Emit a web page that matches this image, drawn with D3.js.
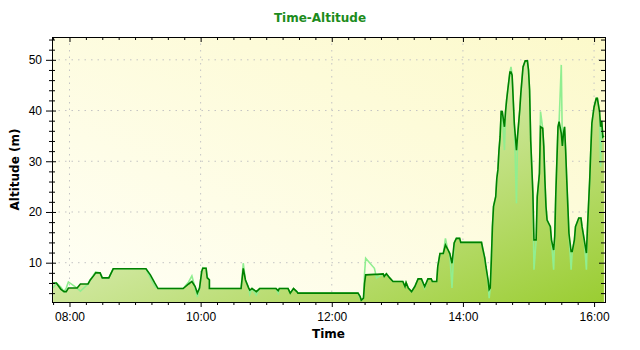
<!DOCTYPE html>
<html>
<head>
<meta charset="utf-8">
<script src="https://cdn.jsdelivr.net/npm/d3@7"></script>
<style>
  body { margin: 0; background: #fff; }
  text { font-family: "Liberation Sans", Arial, sans-serif; }
</style>
</head>
<body>
<script>
// time of each sample, smoothed altitude (dark line) and raw altitude (light line), metres
var times = [
  "07:45", "07:48", "07:52", "07:55", "07:57", "07:59", "08:07", "08:10", "08:17", "08:19",
  "08:22", "08:24", "08:28", "08:30", "08:36", "08:40", "09:10", "09:14", "09:18", "09:21",
  "09:44", "09:49", "09:52", "09:55", "09:57", "09:59", "10:01", "10:02", "10:05", "10:06",
  "10:08", "10:08", "10:37", "10:39", "10:41", "10:44", "10:45", "10:47", "10:51", "10:54",
  "11:09", "11:11", "11:12", "11:20", "11:22", "11:25", "11:28", "11:29", "12:24", "12:26",
  "12:27", "12:29", "12:30", "12:31", "12:39", "12:41", "12:47", "12:48", "12:50", "12:53",
  "12:56", "13:05", "13:07", "13:08", "13:10", "13:13", "13:16", "13:19", "13:22", "13:25",
  "13:28", "13:31", "13:32", "13:36", "13:37", "13:39", "13:42", "13:44", "13:46", "13:48",
  "13:50", "13:52", "13:54", "13:57", "13:58", "14:17", "14:18", "14:20", "14:21", "14:23",
  "14:24", "14:25", "14:26", "14:27", "14:28", "14:30", "14:31", "14:32", "14:33", "14:34",
  "14:35", "14:36", "14:38", "14:39", "14:40", "14:41", "14:43", "14:44", "14:45", "14:47",
  "14:49", "14:50", "14:52", "14:53", "14:55", "14:57", "14:59", "15:00", "15:01", "15:02",
  "15:04", "15:05", "15:07", "15:08", "15:10", "15:11", "15:13", "15:14", "15:15", "15:16",
  "15:17", "15:20", "15:21", "15:23", "15:24", "15:25", "15:27", "15:28", "15:30", "15:31",
  "15:32", "15:33", "15:34", "15:35", "15:36", "15:37", "15:39", "15:40", "15:42", "15:43",
  "15:46", "15:48", "15:49", "15:51", "15:53", "15:54", "15:56", "15:57", "15:58", "16:00",
  "16:02", "16:03", "16:05", "16:06", "16:07", "16:08", "16:09"
];
var altitude = [
  6.0, 6.0, 4.8, 4.3, 4.3, 5.0, 5.0, 5.8, 5.8, 6.6,
  7.4, 8.0, 8.0, 7.0, 7.0, 8.8, 8.8, 7.6, 6.0, 4.9,
  4.9, 5.8, 6.3, 5.3, 4.0, 5.0, 8.3, 8.9, 8.9, 7.0,
  6.6, 4.9, 4.9, 8.9, 6.6, 5.0, 4.6, 4.9, 4.3, 4.9,
  4.9, 4.5, 4.9, 4.9, 4.0, 4.9, 4.3, 4.0, 4.0, 3.3,
  2.6, 3.0, 6.0, 7.6, 7.7, 7.7, 7.8, 7.3, 7.8, 7.0,
  6.3, 6.3, 5.3, 6.1, 5.0, 4.3, 5.3, 6.8, 6.8, 5.3,
  6.8, 6.8, 6.3, 6.3, 9.3, 11.8, 11.8, 13.5, 12.7, 11.8,
  9.9, 13.9, 14.8, 14.8, 14.0, 14.0, 12.9, 10.9, 9.3, 6.6,
  4.7, 5.0, 10.6, 17.1, 21.1, 23.0, 26.6, 28.3, 32.2, 34.8,
  39.8, 39.8, 36.8, 39.8, 42.1, 44.0, 47.6, 47.6, 47.0, 37.5,
  32.2, 35.0, 40.1, 43.4, 48.6, 49.8, 49.8, 48.0, 44.0, 34.2,
  23.7, 14.5, 14.5, 23.0, 27.6, 36.8, 36.5, 32.9, 26.3, 21.1,
  18.4, 17.1, 14.5, 12.5, 15.2, 23.7, 36.8, 37.8, 35.5, 33.0,
  35.5, 36.8, 32.0, 26.3, 21.1, 15.8, 12.2, 12.2, 14.5, 17.1,
  18.8, 18.8, 17.1, 14.5, 11.9, 17.1, 26.3, 32.2, 37.5, 40.7,
  42.4, 42.4, 39.8, 36.8, 38.0, 34.8, 35.0
];
var altitudeRaw = [
  5.0, 6.0, 5.2, 4.3, 5.0, 6.2, 5.0, 4.4, 5.8, 6.6,
  7.6, 8.2, 8.0, 7.0, 7.0, 8.8, 8.8, 7.0, 5.3, 4.9,
  4.9, 6.2, 7.4, 5.0, 3.2, 5.0, 8.3, 9.0, 8.9, 7.2,
  6.6, 4.9, 4.9, 9.9, 6.6, 5.0, 3.8, 4.9, 3.6, 4.9,
  4.9, 4.0, 4.9, 4.9, 4.0, 4.9, 4.3, 4.0, 4.0, 3.0,
  2.6, 3.0, 8.0, 10.9, 8.9, 7.0, 7.8, 7.3, 7.8, 7.0,
  6.3, 6.3, 5.3, 6.1, 5.0, 4.3, 5.3, 6.8, 6.8, 5.0,
  6.8, 6.8, 6.3, 6.3, 9.3, 11.8, 11.8, 14.8, 12.7, 11.8,
  5.0, 13.9, 14.8, 14.8, 14.0, 14.0, 12.9, 10.9, 9.3, 6.0,
  3.0, 5.0, 10.6, 17.1, 21.1, 23.0, 26.6, 28.3, 32.2, 34.8,
  39.8, 39.8, 32.2, 39.8, 42.1, 44.0, 47.6, 48.6, 47.0, 37.5,
  21.7, 35.0, 40.1, 43.4, 48.6, 49.8, 49.8, 48.0, 44.0, 34.2,
  23.7, 8.6, 14.5, 23.0, 27.6, 39.8, 36.5, 32.9, 26.3, 21.1,
  18.4, 17.1, 14.5, 8.6, 15.2, 23.7, 36.8, 37.8, 49.0, 33.0,
  35.5, 36.8, 32.0, 26.3, 21.1, 15.8, 8.6, 12.2, 14.5, 17.1,
  18.8, 18.8, 17.1, 14.5, 8.6, 17.1, 26.3, 32.2, 37.5, 40.7,
  42.4, 42.4, 39.8, 28.9, 38.0, 34.8, 35.0
];
var timeDomain = ["07:44", "16:10"];
var altDomain = [2.25, 54.5];
var yMajor = [10, 20, 30, 40, 50];
var yMinor = [4, 6, 8, 12, 14, 16, 18, 22, 24, 26, 28, 32, 34, 36, 38, 42, 44, 46, 48, 52, 54];

var width = 640, height = 350;
var margin = { top: 37, right: 35, bottom: 48, left: 52 };
var w = width - margin.left - margin.right,
  h = height - margin.top - margin.bottom;

var parse = d3.timeParse("%H:%M");
var data = times.map((t, i) => ({ t: parse(t), alt: altitude[i], raw: altitudeRaw[i] }));

var x = d3.scaleTime().domain(timeDomain.map(parse)).range([0, w]);
var y = d3.scaleLinear().domain(altDomain).range([h, 0]);

var xMajor = x.ticks(d3.timeHour.every(2));
var xMinor = x.ticks(d3.timeMinute.every(15)).filter(d => d.getMinutes() !== 0 || d.getHours() % 2);

var svg = d3.select("body").append("svg")
  .attr("width", width)
  .attr("height", height);

var defs = svg.append("defs");
var bg = defs.append("linearGradient").attr("id", "bg")
  .attr("x1", 0).attr("y1", 1).attr("x2", 1).attr("y2", 0);
bg.append("stop").attr("offset", 0).attr("stop-color", "#fffff6");
bg.append("stop").attr("offset", 1).attr("stop-color", "#fcf9ca");

var fillGrad = defs.append("linearGradient").attr("id", "fillGrad")
  .attr("x1", 0).attr("y1", 0).attr("x2", 1).attr("y2", 1);
fillGrad.append("stop").attr("offset", 0).attr("stop-color", "#ffffff");
fillGrad.append("stop").attr("offset", 1).attr("stop-color", "#9acd32");

defs.append("clipPath").attr("id", "clip")
  .append("rect").attr("width", w).attr("height", h);

// title
svg.append("text")
  .attr("x", width / 2).attr("y", 21.5)
  .attr("text-anchor", "middle")
  .style("font-family", "'DejaVu Sans', sans-serif")
  .style("font-weight", "bold").style("font-size", "12px")
  .attr("fill", "#1c8c1c")
  .text("Time-Altitude");

var g = svg.append("g").attr("transform", `translate(${margin.left},${margin.top})`);

g.append("rect").attr("width", w).attr("height", h).attr("fill", "url(#bg)");

// dotted grid
g.append("g").selectAll("line").data(xMajor).join("line")
  .attr("x1", d => x(d)).attr("x2", d => x(d))
  .attr("y1", 0).attr("y2", h)
  .attr("stroke", "#c4c4c4").attr("stroke-dasharray", "1.5,5");
g.append("g").selectAll("line").data(yMajor).join("line")
  .attr("x1", 0).attr("x2", w)
  .attr("y1", d => y(d)).attr("y2", d => y(d))
  .attr("stroke", "#c4c4c4").attr("stroke-dasharray", "1.5,5");

var plot = g.append("g").attr("clip-path", "url(#clip)");

plot.append("path").datum(data)
  .attr("fill", "url(#fillGrad)")
  .attr("d", d3.area().x(d => x(d.t)).y0(h).y1(d => y(d.alt)));

plot.append("path").datum(data)
  .attr("fill", "none").attr("stroke", "#90ee90").attr("stroke-width", 1.6)
  .attr("d", d3.line().x(d => x(d.t)).y(d => y(d.raw)));

plot.append("path").datum(data)
  .attr("fill", "none").attr("stroke", "#008000").attr("stroke-width", 1.6)
  .attr("d", d3.line().x(d => x(d.t)).y(d => y(d.alt)));

// axes
function tidy(sel) {
  sel.select(".domain").remove();
  sel.selectAll("text").style("font-family", "'Liberation Sans', Arial, sans-serif")
    .style("font-size", "12px").attr("fill", "#000");
}

g.append("g").attr("transform", `translate(0,${h})`)
  .call(d3.axisBottom(x).tickValues(xMajor).tickFormat(d3.timeFormat("%H:%M")).tickSize(5).tickPadding(5))
  .call(tidy);
g.append("g").attr("transform", `translate(0,${h})`)
  .call(d3.axisBottom(x).tickValues(xMinor).tickFormat("").tickSize(3))
  .call(tidy);

g.append("g")
  .call(d3.axisTop(x).tickValues(xMajor).tickFormat("").tickSize(-5))
  .call(tidy);
g.append("g")
  .call(d3.axisTop(x).tickValues(xMinor).tickFormat("").tickSize(-3))
  .call(tidy);

var left = g.append("g")
  .call(d3.axisLeft(y).tickValues(yMajor).tickSize(6).tickPadding(4))
  .call(tidy);
left.selectAll(".tick line").attr("x1", 4);
var leftMinor = g.append("g")
  .call(d3.axisLeft(y).tickValues(yMinor).tickFormat("").tickSize(3))
  .call(tidy);
leftMinor.selectAll(".tick line").attr("x1", 3);

g.append("g").attr("transform", `translate(${w},0)`)
  .call(d3.axisRight(y).tickValues(yMajor).tickFormat("").tickSize(-6))
  .call(tidy);
g.append("g").attr("transform", `translate(${w},0)`)
  .call(d3.axisRight(y).tickValues(yMinor).tickFormat("").tickSize(-4))
  .call(tidy);

g.append("rect").attr("width", w).attr("height", h)
  .attr("fill", "none").attr("stroke", "#000").attr("shape-rendering", "crispEdges");

// axis titles
svg.append("text")
  .attr("x", margin.left + w / 2).attr("y", 337.5)
  .attr("text-anchor", "middle")
  .style("font-family", "'DejaVu Sans', sans-serif")
  .style("font-weight", "bold").style("font-size", "12px")
  .text("Time");

svg.append("text")
  .attr("transform", `translate(19,${margin.top + h / 2}) rotate(-90)`)
  .attr("text-anchor", "middle")
  .style("font-family", "'DejaVu Sans', sans-serif")
  .style("font-weight", "bold").style("font-size", "12px")
  .text("Altitude (m)");
</script>
</body>
</html>
